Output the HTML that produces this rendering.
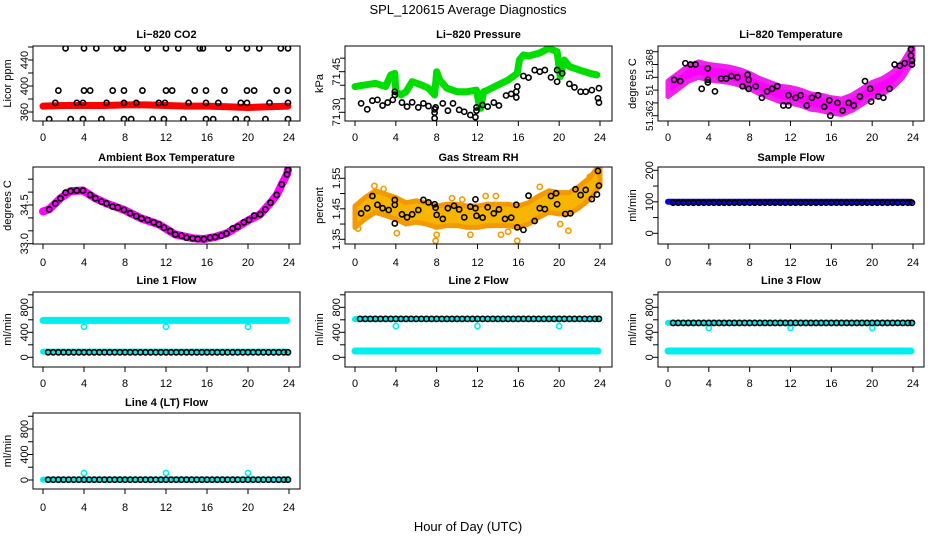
<!DOCTYPE html>
<html><head><meta charset="utf-8"><title>SPL_120615 Average Diagnostics</title>
<style>
html,body{margin:0;padding:0;background:#fff;}
svg{display:block;font-family:"Liberation Sans",Arial,sans-serif;}
</style></head>
<body>
<svg id="chart" width="936" height="540" viewBox="0 0 936 540" xmlns="http://www.w3.org/2000/svg">
<text x="468" y="14" text-anchor="middle" font-size="13">SPL_120615  Average Diagnostics</text>
<text x="468" y="531" text-anchor="middle" font-size="13">Hour of Day (UTC)</text>
</svg>
<script>
// ---------- data ----------
const xTicks = [0,4,8,12,16,20,24];

// CO2
const co2RedHours = [0,2,4,6,8,10,12,14,16,18,20,22,23.9];
const co2RedVals  = [369,370,370,370,371,371,370,369,369,368,367,368,369];
const co2AvgHours = [2.2,4.0,5.2,7.2,7.8,10.2,12.0,13.2,15.3,15.6,18.1,19.9,21.1,23.2,23.9,
  1.5,4.0,4.6,6.8,7.9,9.7,12.0,12.6,14.8,15.9,17.7,19.9,20.6,22.8,23.9,
  1.2,3.3,3.9,6.2,7.9,9.1,11.3,11.9,14.2,15.9,17.1,19.3,19.9,22.1,23.9,
  0.6,2.7,3.9,5.7,7.9,8.6,10.7,11.8,13.7,15.9,16.6,18.8,19.9,21.7,23.9];
const co2AvgVals = [458,458,458,458,458,458,458,458,458,458,458,458,458,458,458,
  393,393,393,393,393,393,393,393,393,393,393,393,393,393,393,
  374,374,374,374,374,374,374,374,374,374,374,374,374,374,374,
  349,349,349,349,349,349,349,349,349,349,349,349,349,349,349];

// Pressure
const presGreenHours = [0,1,2,3,3.5,3.9,4.0,4.5,5.0,5.6,6.5,7.2,7.8,8.0,8.3,9,10,11,11.9,12.1,12.3,12.6,13,14,15,15.9,16.1,16.5,17,18,19,19.8,20.1,20.5,21,22,23,23.7];
const presGreenVals  = [71.395,71.401,71.407,71.395,71.438,71.444,71.376,71.364,71.376,71.413,71.401,71.389,71.364,71.450,71.419,71.389,71.376,71.376,71.382,71.339,71.315,71.376,71.382,71.401,71.419,71.444,71.493,71.512,71.508,71.518,71.536,71.524,71.432,71.493,71.469,71.456,71.444,71.438];
const presAvgHours = [0.6,1.2,1.7,2.2,2.7,3.2,3.7,3.9,3.9,4.6,5.1,5.6,6.2,6.7,7.2,7.8,7.8,7.8,7.9,8.6,9.1,9.6,10.2,10.7,11.3,11.8,11.9,11.9,12.5,13.0,13.6,14.1,14.8,15.3,15.8,15.8,15.9,16.5,17.0,17.6,18.1,18.6,19.2,19.8,19.8,20.3,21.0,21.5,22.1,22.6,23.2,23.8,23.9,23.9];
const presAvgVals  = [71.333,71.311,71.343,71.346,71.325,71.336,71.346,71.376,71.364,71.336,71.321,71.337,71.318,71.333,71.323,71.311,71.299,71.278,71.318,71.333,71.306,71.333,71.309,71.302,71.290,71.282,71.306,71.318,71.327,71.321,71.336,71.325,71.362,71.368,71.376,71.355,71.395,71.434,71.428,71.456,71.450,71.456,71.429,71.456,71.413,71.444,71.405,71.392,71.376,71.376,71.382,71.352,71.336,71.389];

// Li-820 Temperature
const tempCloudHours = [0,1,2,3,4,5,6,7,8,9,10,11,12,13,14,15,16,17,18,19,20,21,22,23,24];
const tempCloudLo = [51.3635,51.3641,51.3647,51.3650,51.3648,51.3647,51.3646,51.3644,51.3641,51.3637,51.3634,51.3631,51.3630,51.3628,51.3625,51.3624,51.3622,51.3621,51.3624,51.3629,51.3634,51.3637,51.3642,51.3650,51.3663];
const tempCloudHi = [51.3647,51.3653,51.3659,51.3662,51.3660,51.3659,51.3658,51.3656,51.3653,51.3649,51.3646,51.3643,51.3642,51.3640,51.3637,51.3636,51.3634,51.3633,51.3636,51.3641,51.3646,51.3649,51.3654,51.3662,51.3675];
const tempAvgHours = [0.6,1.2,1.7,2.2,2.7,3.3,3.9,3.9,3.9,4.6,5.2,5.7,6.2,6.8,7.3,7.8,7.9,7.9,8.6,9.2,9.7,10.2,10.7,11.3,11.8,11.8,12.5,13.0,13.6,14.1,14.7,15.3,15.8,15.9,16.6,17.1,17.7,18.2,18.8,19.3,19.8,19.9,20.6,21.1,21.7,22.2,22.7,23.2,23.8,23.8,23.9,23.9];
const tempAvgVals  = [51.3648,51.3647,51.3661,51.3660,51.3660,51.3641,51.3657,51.3648,51.3646,51.3639,51.3649,51.3649,51.3651,51.3650,51.3643,51.3652,51.3648,51.3641,51.3643,51.3634,51.3639,51.3641,51.3643,51.3628,51.3636,51.3628,51.3634,51.3636,51.3628,51.3634,51.3636,51.3627,51.3632,51.3620,51.3630,51.3624,51.3630,51.3628,51.3635,51.3647,51.3641,51.3631,51.3635,51.3634,51.3641,51.3660,51.3659,51.3661,51.3672,51.3667,51.3660,51.3663];

// Ambient box temperature
const ambAvgHours = [0.6,1.2,1.7,2.2,2.7,3.3,3.9,4.6,5.1,5.7,6.2,6.8,7.3,7.9,8.5,9.1,9.6,10.2,10.8,11.3,11.8,12.4,12.9,13.5,14.0,14.6,15.1,15.7,16.3,16.8,17.4,17.9,18.5,19.0,19.6,20.1,20.6,21.2,21.7,22.2,22.8,23.3,23.8,23.9];
const ambAvgVals  = [34.33,34.56,34.76,34.98,35.04,35.06,35.06,34.89,34.76,34.63,34.56,34.44,34.40,34.31,34.18,34.07,33.98,33.92,33.83,33.75,33.62,33.49,33.36,33.31,33.23,33.21,33.18,33.18,33.23,33.26,33.31,33.40,33.59,33.66,33.83,33.92,34.09,34.14,34.33,34.59,34.89,35.30,35.69,35.86];
const ambRawHours = [0,0.6,1.7,2.7,3.9,5.1,6.2,7.9,9.6,11.3,12.9,14.6,15.7,16.8,17.9,19.0,20.1,21.2,22.2,22.8,23.3,23.8,23.9];
const ambRawVals  = [34.25,34.33,34.76,35.04,35.06,34.76,34.56,34.31,33.98,33.75,33.36,33.21,33.18,33.26,33.40,33.66,33.92,34.14,34.59,34.89,35.30,35.69,35.86];

// Gas stream RH
const rhCloudHours = [0,1,2,3,4,5,6,7,8,9,10,11,12,13,14,15,16,17,18,19,20,21,22,23,24];
const rhCloudLo = [1.389,1.417,1.439,1.428,1.417,1.400,1.406,1.400,1.389,1.395,1.395,1.389,1.389,1.395,1.395,1.395,1.389,1.400,1.422,1.439,1.433,1.433,1.455,1.482,1.526];
const rhCloudHi = [1.459,1.487,1.509,1.498,1.487,1.470,1.476,1.470,1.459,1.465,1.465,1.459,1.459,1.465,1.465,1.465,1.459,1.470,1.492,1.509,1.503,1.503,1.525,1.552,1.596];
const rhOutHours = [1.9,2.8,7.9,8.0,9.5,10.5,11.3,12.8,13.8,14.3,15.0,15.9,18.1,20.1,20.9,23.0,0.3,4.1];
const rhOutVals  = [1.525,1.515,1.345,1.365,1.485,1.480,1.365,1.492,1.492,1.365,1.375,1.345,1.522,1.400,1.378,1.555,1.385,1.370];
const rhAvgHours = [0.6,1.2,1.7,2.2,2.7,3.3,3.9,3.9,3.9,4.6,5.1,5.6,6.2,6.7,7.2,7.8,7.9,8.0,8.6,9.1,9.7,10.2,10.7,11.3,11.8,11.8,11.9,12.5,13.0,13.6,14.1,14.7,15.3,15.8,15.9,16.5,17.0,17.6,18.1,18.6,19.2,19.7,19.8,20.6,21.1,21.6,22.1,22.6,23.2,23.7,23.8,23.9];
const rhAvgVals  = [1.435,1.452,1.492,1.463,1.452,1.446,1.479,1.463,1.402,1.432,1.422,1.432,1.446,1.479,1.471,1.465,1.454,1.430,1.417,1.452,1.460,1.448,1.422,1.457,1.481,1.452,1.427,1.421,1.455,1.435,1.448,1.417,1.421,1.463,1.389,1.381,1.493,1.410,1.452,1.449,1.492,1.501,1.465,1.433,1.435,1.514,1.495,1.512,1.482,1.497,1.574,1.526];

// Flows (shared half-hour averaging times)
const flowAvgHours = [0.5,1,1.5,2,2.5,3,3.5,4,4.5,5,5.5,6,6.5,7,7.5,8,8.5,9,9.5,10,10.5,11,11.5,12,12.5,13,13.5,14,14.5,15,15.5,16,16.5,17,17.5,18,18.5,19,19.5,20,20.5,21,21.5,22,22.5,23,23.5,23.9];
const sampleAvg = [97,97,97,97,97,97,97,97,97,97,97,97,97,97,97,97,97,97,97,97,97,97,97,97,97,97,97,97,97,97,97,97,97,97,97,97,97,97,97,97,97,97,97,97,97,97,97,97];
const line1Avg  = [80,80,80,80,80,80,80,80,80,80,80,80,80,80,80,80,80,80,80,80,80,80,80,80,80,80,80,80,80,80,80,80,80,80,80,80,80,80,80,80,80,80,80,80,80,80,80,80];
const line2Avg  = [615,615,615,615,615,615,615,615,615,615,615,615,615,615,615,615,615,615,615,615,615,615,615,615,615,615,615,615,615,615,615,615,615,615,615,615,615,615,615,615,615,615,615,615,615,615,615,615];
const line3Avg  = [550,550,550,550,550,550,550,550,550,550,550,550,550,550,550,550,550,550,550,550,550,550,550,550,550,550,550,550,550,550,550,550,550,550,550,550,550,550,550,550,550,550,550,550,550,550,550,550];
const line4Avg  = [5,5,5,5,5,5,5,5,5,5,5,5,5,5,5,5,5,5,5,5,5,5,5,5,5,5,5,5,5,5,5,5,5,5,5,5,5,5,5,5,5,5,5,5,5,5,5,5];
const bandHours = [0,4,8,12,16,20,23.8];
const sampleBand = [100,100,100,100,100,100,100];
const line1BandHi = [590,590,590,590,590,590,590];
const line1BandLo = [90,90,90,90,90,90,90];
const line2BandHi = [610,610,610,610,610,610,610];
const line2BandLo = [100,100,100,100,100,100,100];
const line3BandHi = [550,550,550,550,550,550,550];
const line3BandLo = [100,100,100,100,100,100,100];
const line4Band   = [5,5,5,5,5,5,5];
const outlierHours = [4,12,20];
const line1Out = [490,490,490];
const line2Out = [500,500,500];
const line3Out = [470,470,470];
const line4Out = [110,110,110];

// ---------- drawing ----------
const NS = "http://www.w3.org/2000/svg";
const svg = document.getElementById('chart');
function mk(tag, attrs, parent){
  const e = document.createElementNS(NS, tag);
  for (const k in attrs) e.setAttribute(k, attrs[k]);
  (parent || svg).appendChild(e);
  return e;
}
const cols = [{l:33,r:300,x0:43,x24:289},{l:345,r:612,x0:355,x24:600},{l:658,r:924,x0:668,x24:913}];
const rows = [{t:46,b:121,ty:38,xl:141},{t:167,b:244,ty:161,xl:266},{t:292,b:367,ty:284,xl:387},{t:413,b:489,ty:406,xl:511}];
let clipId = 0;

function panel(name, title, ci, ri, ylab, cal, ticks, labels, lfs){
  const c = cols[ci], r = rows[ri];
  const g = mk('g', {});
  
  
  const sx = h => c.x0 + (c.x24 - c.x0) * h / 24;
  const sy = v => cal[1] + (v - cal[0]) * (cal[3] - cal[1]) / (cal[2] - cal[0]);
  const t = mk('text', {x:(c.l+c.r)/2, y:r.ty, 'text-anchor':'middle', 'font-size':11, 'font-weight':'bold'}, g);
  t.textContent = title;
  
  
  const id = 'clip' + (clipId++);
  const cp = mk('clipPath', {id:id}, g);
  mk('rect', {x:c.l, y:r.t, width:c.r-c.l, height:r.b-r.t}, cp);
  const plot = mk('g', {'clip-path':'url(#'+id+')'}, g);
  
  
  const box = mk('rect', {x:c.l, y:r.t, width:c.r-c.l, height:r.b-r.t, fill:'none', stroke:'#000', 'stroke-width':1}, g);
  
  
  const xa = mk('g', {}, g);
  
  
  mk('line', {x1:sx(0), x2:sx(24), y1:r.b, y2:r.b, stroke:'#000'}, xa);
  xTicks.forEach(h => {
    mk('line', {x1:sx(h), x2:sx(h), y1:r.b, y2:r.b+5, stroke:'#000'}, xa);
    const tl = mk('text', {x:sx(h), y:r.xl, 'text-anchor':'middle', 'font-size':11}, xa);
    tl.textContent = h;
    
    
  });
  const ya = mk('g', {}, g);
  
  
  mk('line', {x1:c.l, x2:c.l, y1:sy(ticks[0]), y2:sy(ticks[ticks.length-1]), stroke:'#000'}, ya);
  ticks.forEach((v,i) => {
    mk('line', {x1:c.l-5, x2:c.l, y1:sy(v), y2:sy(v), stroke:'#000'}, ya);
    if (labels[i]) {
      const yl = mk('text', {x:c.l-5, y:sy(v), 'text-anchor':'middle', 'font-size':lfs||11, transform:'rotate(-90 '+(c.l-5)+' '+sy(v)+')'}, ya);
      yl.textContent = labels[i];
      
      
    }
  });
  const yt = mk('text', {x:c.l-22, y:(r.t+r.b)/2, 'text-anchor':'middle', 'font-size':11, transform:'rotate(-90 '+(c.l-22)+' '+(r.t+r.b)/2+')'}, g);
  yt.textContent = ylab;
  
  
  return {sx, sy, plot};
}
function circles(p, hs, vs, color, name, rad){
  const g = mk('g', {}, p.plot);
  
  
  hs.forEach((h,i) => {
    mk('circle', {cx:p.sx(h), cy:p.sy(vs[i]), r:rad||2.6, fill:'none', stroke:color, 'stroke-width':1.6}, g);
  });
}
function band(p, hs, vs, color, w, name){
  const pts = hs.map((h,i) => p.sx(h)+','+p.sy(vs[i])).join(' ');
  const l = mk('polyline', {points:pts, fill:'none', stroke:color, 'stroke-width':w, 'stroke-linejoin':'round', 'stroke-linecap':'round'}, p.plot);
  
  
}
function cloud(p, hs, lo, hi, fill, edge, name){
  const top = hs.map((h,i) => p.sx(h)+','+p.sy(hi[i]));
  const bot = hs.map((h,i) => p.sx(h)+','+p.sy(lo[i])).reverse();
  const pg = mk('polygon', {points:top.concat(bot).join(' '), fill:fill, stroke:edge, 'stroke-width':5, 'stroke-linejoin':'round'}, p.plot);
  
  
}

let p = panel('co2', 'Li\u2212820 CO2', 0, 0, 'Licor ppm', [360,112,440,60], [360,380,400,420,440,460], ['360','','400','','440','']);
band(p, co2RedHours, co2RedVals, '#ff0000', 7, 'co2-raw-series');
circles(p, co2AvgHours, co2AvgVals, '#000', 'co2-average-points');

p = panel('pressure', 'Li\u2212820 Pressure', 1, 0, 'kPa', [71.30,112.3,71.45,71.7], [71.30,71.35,71.40,71.45,71.50], ['71.30','','','71.45','']);
band(p, presGreenHours, presGreenVals, '#00dd00', 7, 'pressure-raw-series');
circles(p, presAvgHours, presAvgVals, '#000', 'pressure-average-points');

p = panel('li820-temperature', 'Li\u2212820 Temperature', 2, 0, 'degrees C', [51.362,115.7,51.363,102.9], [51.362,51.363,51.364,51.365,51.366,51.367], ['51.362','','51','','51.368',''], 10);
cloud(p, tempCloudHours, tempCloudLo, tempCloudHi, '#ff00ff', '#ee22ee', 'li820-temperature-raw-cloud');
circles(p, tempAvgHours, tempAvgVals, '#000', 'li820-temperature-average-points');

p = panel('ambient-temperature', 'Ambient Box Temperature', 0, 1, 'degrees C', [33.0,243.7,34.5,205], [33.0,33.5,34.0,34.5,35.0,35.5], ['33.0','','','34.5','','']);
band(p, ambRawHours, ambRawVals, '#ff00ff', 8, 'ambient-temperature-raw-series');
circles(p, ambAvgHours, ambAvgVals, '#000', 'ambient-temperature-average-points');

p = panel('gas-rh', 'Gas Stream RH', 1, 1, 'percent', [1.35,239.3,1.55,178.3], [1.35,1.40,1.45,1.50,1.55], ['1.35','','1.45','','1.55']);
cloud(p, rhCloudHours, rhCloudLo, rhCloudHi, '#f7b500', '#f39a00', 'gas-rh-raw-cloud');
circles(p, rhOutHours, rhOutVals, '#f39a00', 'gas-rh-raw-outliers');
circles(p, rhAvgHours, rhAvgVals, '#000', 'gas-rh-average-points');

p = panel('sample-flow', 'Sample Flow', 2, 1, 'ml/min', [0,233.3,200,170.3], [0,50,100,150,200], ['0','','100','','200']);
band(p, bandHours, sampleBand, '#0000ff', 6, 'sample-flow-raw-series');
circles(p, flowAvgHours, sampleAvg, '#000', 'sample-flow-average-points');

const flowTicks = [0,200,400,600,800,1000];
const flowLabels = ['0','','400','','800',''];
p = panel('line1-flow', 'Line 1 Flow', 0, 2, 'ml/min', [0,357.3,800,307.3], flowTicks, flowLabels);
band(p, bandHours, line1BandHi, '#00eeee', 7, 'line1-flow-raw-high');
band(p, bandHours, line1BandLo, '#00eeee', 6, 'line1-flow-raw-low');
circles(p, outlierHours, line1Out, '#00eeee', 'line1-flow-outliers');
circles(p, flowAvgHours, line1Avg, '#000', 'line1-flow-average-points');

p = panel('line2-flow', 'Line 2 Flow', 1, 2, 'ml/min', [0,357.3,800,307.3], flowTicks, flowLabels);
band(p, bandHours, line2BandHi, '#00eeee', 6, 'line2-flow-raw-high');
band(p, bandHours, line2BandLo, '#00eeee', 7, 'line2-flow-raw-low');
circles(p, outlierHours, line2Out, '#00eeee', 'line2-flow-outliers');
circles(p, flowAvgHours, line2Avg, '#000', 'line2-flow-average-points');

p = panel('line3-flow', 'Line 3 Flow', 2, 2, 'ml/min', [0,357.3,800,307.3], flowTicks, flowLabels);
band(p, bandHours, line3BandHi, '#00eeee', 6, 'line3-flow-raw-high');
band(p, bandHours, line3BandLo, '#00eeee', 7, 'line3-flow-raw-low');
circles(p, outlierHours, line3Out, '#00eeee', 'line3-flow-outliers');
circles(p, flowAvgHours, line3Avg, '#000', 'line3-flow-average-points');

p = panel('line4-flow', 'Line 4 (LT) Flow', 0, 3, 'ml/min', [0,480,800,429], flowTicks, flowLabels);
band(p, bandHours, line4Band, '#00eeee', 6, 'line4-flow-raw-series');
circles(p, outlierHours, line4Out, '#00eeee', 'line4-flow-outliers');
circles(p, flowAvgHours, line4Avg, '#000', 'line4-flow-average-points');
</script>
</body></html>
